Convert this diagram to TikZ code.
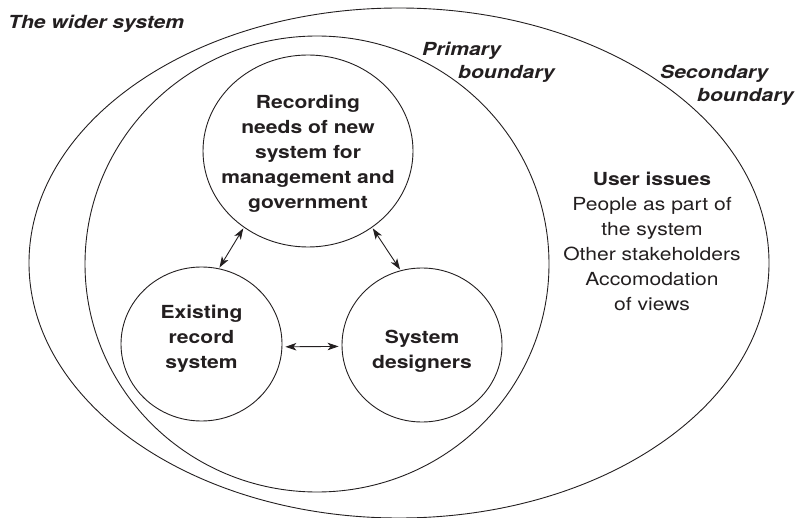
\documentclass[tikz,border=0pt]{standalone}
\usepackage{fontspec}
\setmainfont{TeX Gyre Heros}[FakeStretch=1.17]
\usepackage{tikz}
\usetikzlibrary{arrows.meta,shapes.geometric}
\definecolor{ink}{HTML}{231F20}

\begin{document}
\begin{tikzpicture}[x=1pt,y=-1pt,>={Stealth[length=11pt,width=7.5pt,inset=3pt]},
	lbl/.style={inner sep=0pt,text=ink,align=center,font=\fontsize{18}{25}\selectfont},
	bold/.style={lbl,font=\fontsize{18}{25}\selectfont\bfseries},
	tag/.style={lbl,align=left,font=\fontsize{18}{25}\selectfont\bfseries\itshape},
	bubble/.style={ellipse,draw=ink,line width=0.9pt,inner sep=0pt},
	bound/.style={draw=ink,line width=0.9pt},
	link/.style={<->,draw=ink,line width=0.9pt,shorten >=1pt,shorten <=1pt}]
	\useasboundingbox (0,0) rectangle (799,518);

	% boundaries
	\draw [bound] (399,263) ellipse [x radius=370pt, y radius=255pt];
	\draw [bound] (317,264) ellipse [x radius=232pt, y radius=228pt];

	\node [tag, anchor=north west]	(wider)	at (8,15)	{The wider system};
	\node [tag, anchor=north west]	(prim)	at (422,42)	{Primary\\[-2pt]\hspace*{36pt}boundary};
	\node [tag, anchor=north west]	(sec)	at (660,65)	{Secondary\\[-2pt]\hspace*{37pt}boundary};

	% the three circles
	\node [bubble, minimum width=210pt, minimum height=192pt,
		label={[bold,yshift=-2.5pt]center:Recording\\needs of new\\system for\\management and\\government}]	(rec)	at (308,151)	{};
	\node [bubble, minimum width=161pt, minimum height=154pt,
		label={[bold,yshift=5.5pt]center:Existing\\record\\system}]	(exist)	at (201.5,344)	{};
	\node [bubble, minimum width=160pt, minimum height=154pt,
		label={[bold,yshift=-6pt]center:System\\designers}]	(sysd)	at (422,345)	{};

	\node [lbl, anchor=north]	(user)	at (652,172)	{\textbf{User issues}\\People as part of\\the system\\Other stakeholders\\Accomodation\\of views};

	\draw [link]	(rec.230.7)	--	(exist.77);
	\draw [link]	(rec.310.3)	--	(sysd.106.6);
	\draw [link,shorten >=3pt,shorten <=3pt]	(exist.358)	--	(sysd.181.5);
\end{tikzpicture}
\end{document}
